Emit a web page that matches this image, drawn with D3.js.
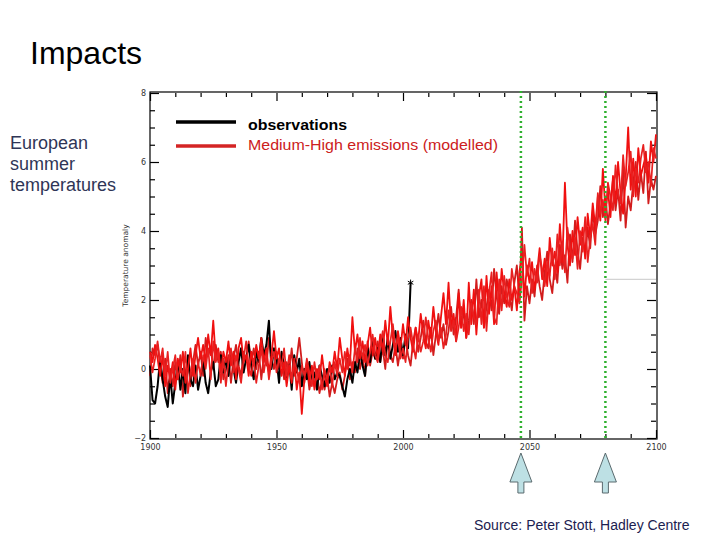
<!DOCTYPE html>
<html><head><meta charset="utf-8">
<script src="https://cdn.jsdelivr.net/npm/d3@7"></script>
<style>body{margin:0;background:#fff}svg{display:block}</style>
</head><body>
<svg id="c" width="720" height="540"></svg>
<script>
const startYear = 1900;
const yMajorTicks = [-2, 0, 2, 4, 6, 8];
const xMajorTicks = [1900, 1950, 2000, 2050, 2100];
const seriesNames = ["observations", "Medium-High emissions (modelled)"];
const markerYears = [2046.6, 2080];
const greyRefValue = 2.6;
const obsPeak = {year: 2003, value: 2.5};

const observations = [
 0.1,-0.9,-1.0,-0.5,0.3,-0.3,-0.8,-1.1,-0.2,-1.0,
 -0.4,0.2,-0.6,0.0,-0.7,0.4,-0.3,-0.5,0.1,-0.6,
 -0.2,0.3,-0.4,-0.7,-0.1,0.2,-0.5,-0.3,0.4,-0.1,
 0.3,-0.2,0.5,0.0,-0.4,0.2,0.6,-0.1,0.3,0.7,
 0.1,-0.3,0.5,0.2,0.9,0.4,0.7,1.4,0.0,0.6,
 0.3,-0.4,0.5,0.1,-0.3,0.2,-0.6,0.4,-0.1,0.3,
 -0.5,0.0,-0.3,0.2,-0.4,-0.1,-0.6,0.1,-0.2,-0.5,
 0.0,-0.4,0.1,-0.3,-0.1,-0.2,-0.5,-0.8,-0.3,0.0,
 -0.4,0.2,-0.1,0.5,0.1,-0.2,0.6,0.2,0.8,0.3,
 0.6,0.2,1.0,0.4,0.9,0.3,0.7,1.1,0.5,0.9,
 0.4,1.0,0.6,2.5];

const model1 = [
 0.5,0.2,0.7,0.3,-0.2,0.4,-0.5,0.1,-0.3,0.2,
 -0.6,0.3,-0.1,0.5,-0.4,0.0,0.6,-0.2,0.4,0.9,
 0.3,0.7,0.2,1.0,0.4,1.4,0.3,0.6,-0.1,0.5,
 0.2,0.8,0.1,0.5,-0.3,0.6,0.9,0.2,0.4,-0.2,
 0.5,0.1,0.7,0.3,0.9,0.2,0.6,-0.1,0.4,1.1,
 0.3,0.6,-0.2,0.2,-0.5,0.1,-0.4,0.3,-0.6,-0.1,
 -1.3,-0.3,0.2,-0.4,0.1,-0.6,0.0,-0.3,0.4,-0.2,
 -0.5,0.2,-0.1,0.5,0.0,0.9,0.3,-0.2,0.6,0.1,
 1.5,0.5,1.0,0.3,0.8,0.2,0.7,1.2,0.4,0.9,
 0.3,1.0,0.5,1.4,0.7,1.8,0.9,0.4,1.1,0.6,
 1.3,0.7,1.5,0.9,0.5,1.2,0.8,1.6,1.0,0.6,
 1.4,0.9,1.8,1.1,0.7,1.5,2.2,1.3,2.5,1.2,
 1.6,0.8,2.2,1.2,2.0,0.9,2.5,1.3,2.3,1.0,
 2.1,2.6,1.2,2.7,1.6,2.4,1.3,2.8,1.8,2.9,
 2.2,1.8,2.6,2.0,2.4,1.7,2.8,3.3,2.1,3.0,
 2.5,3.1,2.3,2.8,3.5,2.6,3.2,2.4,3.8,3.0,
 3.4,2.8,4.2,3.1,5.4,3.6,3.0,4.0,3.3,4.4,
 3.6,4.1,3.2,4.5,3.8,4.8,4.1,5.0,4.3,5.8,
 4.6,5.2,4.4,5.6,4.8,6.0,5.1,4.5,5.5,7.0,
 5.2,6.1,5.0,6.4,5.6,5.9,6.2,5.4,6.6,6.0,
 6.8];

const model2 = [
 -0.2,0.6,0.4,0.7,0.1,-0.4,0.3,-0.7,0.0,-0.5,
 0.2,-0.3,0.4,-0.8,-0.1,0.3,-0.5,0.2,0.7,0.1,
 0.5,-0.2,0.9,0.4,0.6,0.0,0.7,0.2,0.5,-0.3,
 0.0,0.4,-0.4,0.3,0.7,0.1,-0.2,0.5,0.2,0.8,
 0.2,0.6,0.0,0.5,-0.3,0.4,0.1,0.9,0.3,0.0,
 0.5,0.0,0.4,-0.3,0.2,-0.1,0.6,-0.2,0.3,0.9,
 0.2,-0.4,0.1,-0.6,-0.2,-0.5,-0.1,-0.7,-0.3,-0.6,
 -0.2,-0.8,-0.4,-0.7,-0.3,-0.1,-0.6,-0.2,0.3,-0.3,
 0.2,-0.1,0.6,0.0,0.4,-0.2,0.8,0.1,0.5,0.3,
 0.8,0.2,0.6,0.0,0.9,0.4,0.2,0.7,0.1,0.6,
 0.3,0.9,0.4,0.1,0.8,1.2,0.5,0.9,1.4,0.8,
 0.6,1.2,0.4,1.0,1.6,0.9,1.3,0.7,1.1,1.8,
 1.0,1.5,2.3,1.2,1.7,0.9,1.4,2.0,1.3,2.6,
 1.5,2.0,1.2,1.8,2.3,1.7,2.9,2.1,1.6,2.4,
 1.9,2.6,2.2,1.7,2.5,3.0,2.0,4.1,1.4,2.4,
 1.9,2.6,2.1,3.0,2.4,2.0,2.8,3.4,2.6,2.2,
 3.0,2.5,3.6,2.9,3.3,2.5,3.9,3.1,4.3,3.4,
 2.9,3.8,3.3,4.1,3.5,4.6,3.9,4.3,5.3,4.4,
 5.0,4.2,4.8,5.5,4.6,5.2,4.3,5.8,4.1,5.0,
 4.6,5.4,6.0,4.9,5.7,5.1,6.3,4.8,5.5,5.2,
 5.6];

const model3 = [
 0.4,-0.1,0.3,0.8,0.2,0.6,-0.2,0.5,-0.4,0.0,
 0.4,-0.3,0.1,-0.2,0.5,-0.7,-0.1,0.3,-0.4,0.2,
 -0.2,0.4,0.0,0.6,-0.3,0.8,0.2,0.5,-0.4,0.3,
 -0.5,0.2,0.6,-0.1,0.4,0.0,-0.4,0.3,0.8,0.1,
 -0.2,0.3,-0.4,0.1,0.6,-0.1,0.4,-0.3,0.2,0.5,
 -0.1,0.3,0.1,0.6,-0.2,0.4,-0.3,0.2,0.0,-0.4,
 0.1,-0.2,0.3,-0.1,-0.5,0.2,-0.3,0.1,-0.6,0.0,
 -0.3,0.1,-0.5,0.2,-0.2,0.3,-0.1,0.5,0.0,0.4,
 -0.1,0.6,0.2,0.9,0.3,0.7,0.1,0.5,1.0,0.4,
 0.2,0.7,1.1,0.4,0.2,0.8,1.3,0.6,0.9,0.3,
 0.6,0.2,0.9,1.2,0.7,0.3,1.0,0.5,0.8,1.5,
 0.9,0.5,1.1,1.4,0.8,1.2,0.6,1.0,1.7,1.1,
 1.4,0.8,1.2,1.8,1.1,1.6,1.0,1.9,1.5,1.3,
 2.3,1.3,2.4,1.1,2.2,2.8,1.5,1.3,2.6,1.7,
 2.7,2.1,1.8,2.9,2.4,2.2,1.9,2.6,3.6,2.7,
 3.2,2.2,2.9,2.5,3.3,2.9,2.4,3.1,2.7,3.5,
 2.6,3.9,3.0,3.7,2.8,4.1,3.5,3.2,3.8,2.9,
 4.0,3.4,4.4,3.1,3.8,4.2,3.6,5.1,4.5,4.9,
 4.3,5.4,5.0,4.6,5.9,5.1,4.8,6.2,5.3,5.7,
 6.3,5.0,5.8,5.4,6.1,6.5,5.7,6.0,5.3,6.4,
 6.1];

const svg = d3.select("#c");
const L = 150, R = 656, T = 93, B = 438;
const x = d3.scaleLinear().domain([1900, 2100]).range([L, R]);
const y = d3.scaleLinear().domain([-2, 8]).range([B, T]);

svg.append("text").attr("x", 30).attr("y", 64).attr("font-family", "Liberation Sans, Arial, sans-serif")
  .attr("font-size", 32).attr("fill", "#000").text("Impacts");
const side = ["European", "summer", "temperatures"];
svg.append("g").selectAll("text").data(side).join("text")
  .attr("x", 10).attr("y", (d, i) => 149 + i * 21)
  .attr("font-family", "Liberation Sans, Arial, sans-serif").attr("font-size", 18)
  .attr("fill", "#2f3556").text(d => d);
svg.append("text").attr("x", 474).attr("y", 530).attr("font-family", "Liberation Sans, Arial, sans-serif")
  .attr("font-size", 14).attr("fill", "#1c2150").text("Source: Peter Stott, Hadley Centre");

svg.append("rect").attr("x", L).attr("y", T - 1).attr("width", R - L + 1).attr("height", B - T + 2)
  .attr("fill", "none").attr("stroke", "#000").attr("stroke-width", 1.2);

const fmt = d3.format("d");
const yMinor = d3.range(-2, 8.01, 0.5).filter(v => !yMajorTicks.includes(v));
const xMinor = d3.range(1900, 2100.1, 10).filter(v => !xMajorTicks.includes(v));

function styleAxis(g, showLabels) {
  g.select(".domain").remove();
  g.selectAll(".tick line").attr("stroke", "#000").attr("stroke-width", 1.2);
  g.selectAll(".tick text").attr("font-family", "DejaVu Sans, sans-serif").attr("font-size", 8).attr("fill", "#333");
  if (!showLabels) g.selectAll(".tick text").remove();
}
svg.append("g").attr("transform", `translate(${L},0)`).call(d3.axisLeft(y).tickValues(yMajorTicks).tickSize(-9).tickPadding(4).tickFormat(fmt)).call(g => styleAxis(g, true));
svg.append("g").attr("transform", `translate(${L},0)`).call(d3.axisLeft(y).tickValues(yMinor).tickSize(-5)).call(g => styleAxis(g, false));
svg.append("g").attr("transform", `translate(${R},0)`).call(d3.axisRight(y).tickValues(yMajorTicks).tickSize(-9)).call(g => styleAxis(g, false));
svg.append("g").attr("transform", `translate(${R},0)`).call(d3.axisRight(y).tickValues(yMinor).tickSize(-5)).call(g => styleAxis(g, false));
svg.append("g").attr("transform", `translate(0,${B})`).call(d3.axisBottom(x).tickValues(xMajorTicks).tickSize(-8).tickPadding(6).tickFormat(fmt)).call(g => styleAxis(g, true));
svg.append("g").attr("transform", `translate(0,${B})`).call(d3.axisBottom(x).tickValues(xMinor).tickSize(-4)).call(g => styleAxis(g, false));
svg.append("g").attr("transform", `translate(0,${T})`).call(d3.axisTop(x).tickValues(xMajorTicks).tickSize(-8)).call(g => styleAxis(g, false));
svg.append("g").attr("transform", `translate(0,${T})`).call(d3.axisTop(x).tickValues(xMinor).tickSize(-4)).call(g => styleAxis(g, false));

svg.append("text").attr("transform", `translate(128,${y(3)}) rotate(-90)`).attr("text-anchor", "middle")
  .attr("font-family", "DejaVu Sans, sans-serif").attr("font-size", 7.5).attr("fill", "#333").text("Temperature anomaly");

svg.append("line").attr("x1", x(markerYears[1])).attr("x2", R).attr("y1", y(greyRefValue)).attr("y2", y(greyRefValue))
  .attr("stroke", "#c8c8c8").attr("stroke-width", 1);

const line = d3.line().x((d, i) => x(startYear + i)).y(d => y(d));
const drawSeries = (data, color, w) => svg.append("path").datum(data).attr("d", line)
  .attr("fill", "none").attr("stroke", color).attr("stroke-width", w).attr("stroke-linejoin", "round");
drawSeries(model2, "#d21c1c", 1.8);
drawSeries(observations, "#000", 2);
drawSeries(model1, "#f01010", 1.8);
drawSeries(model3, "#e82020", 1.7);

svg.append("path").attr("d", d3.symbol(d3.symbolAsterisk, 28)())
  .attr("transform", `translate(${x(obsPeak.year)},${y(obsPeak.value)})`)
  .attr("stroke", "#000").attr("stroke-width", 1).attr("fill", "none");

svg.append("g").selectAll("line").data(markerYears).join("line")
  .attr("x1", d => x(d)).attr("x2", d => x(d)).attr("y1", T - 2).attr("y2", B + 1)
  .attr("stroke", "#2fb02f").attr("stroke-width", 2.5).attr("stroke-dasharray", "2,3");

svg.append("g").selectAll("path").data(markerYears).join("path")
  .attr("d", d => {
    const cx = x(d);
    return `M${cx},453 L${cx + 11},482 L${cx + 3},482 L${cx + 3},493 L${cx - 3},493 L${cx - 3},482 L${cx - 11},482 Z`;
  })
  .attr("fill", "#bde0e4").attr("stroke", "#5a6a6e").attr("stroke-width", 1);

const legColors = ["#000", "#d42424"];
const legG = svg.append("g");
legG.selectAll("line").data(seriesNames).join("line")
  .attr("x1", 176).attr("x2", 236).attr("y1", (d, i) => 122 + i * 24).attr("y2", (d, i) => 122 + i * 24)
  .attr("stroke", (d, i) => legColors[i]).attr("stroke-width", 3.5);
legG.selectAll("text").data(seriesNames).join("text")
  .attr("x", 248).attr("y", (d, i) => 130 + i * 20)
  .attr("font-family", "Liberation Sans, Arial, sans-serif").attr("font-size", 15)
  .attr("font-weight", (d, i) => i === 0 ? "bold" : "normal")
  .attr("textLength", (d, i) => i === 0 ? 99 : 250).attr("lengthAdjust", "spacingAndGlyphs")
  .attr("fill", (d, i) => i === 0 ? "#000" : "#cc2020").text(d => d);
</script>
</body></html>
